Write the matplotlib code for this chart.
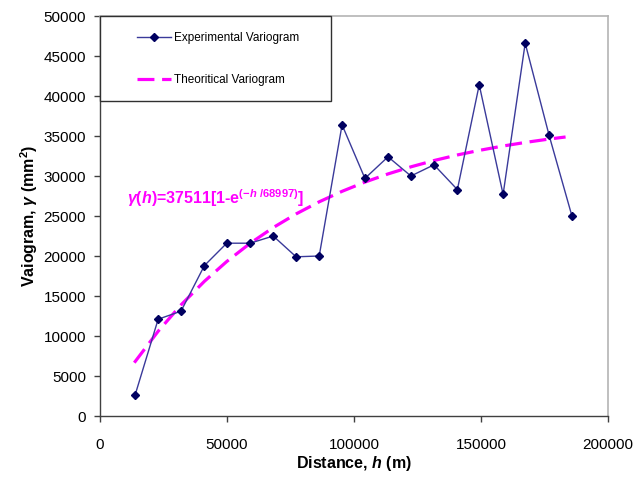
import matplotlib
matplotlib.use("Agg")
import matplotlib.pyplot as plt
from matplotlib.patches import Rectangle

plt.rcParams['font.family'] = ['Liberation Sans', 'DejaVu Sans']
plt.rcParams['mathtext.fontset'] = 'custom'
plt.rcParams['mathtext.rm'] = 'Liberation Sans:bold'
plt.rcParams['mathtext.it'] = 'Liberation Sans:italic:bold'
plt.rcParams['mathtext.bf'] = 'Liberation Sans:bold'

# Experimental variogram (lag distance in m, semivariance in mm^2)
exp_h = [13800, 22900, 31900, 41100, 49900, 59100, 68200, 77200, 86300, 95300,
         104300, 113400, 122400, 131500, 140700, 149300, 158700, 167400, 176800, 185800]
exp_g = [2600, 12100, 13100, 18800, 21600, 21600, 22500, 19900, 20000, 36400,
         29700, 32400, 30000, 31400, 28300, 41400, 27700, 46600, 35100, 25000]

# Theoretical (fitted exponential) variogram
theo_h = [13500, 22900, 31900, 41100, 49900, 59100, 68200, 77200, 86300, 95300,
          104300, 113400, 122400, 131500, 140700, 149300, 158700, 167400, 176800, 183300]
theo_g = [6666, 10597, 13887, 16835, 19311, 21584, 23553, 25260, 26772, 28084,
          29240, 30260, 31145, 31933, 32631, 33201, 33749, 34195, 34619, 34878]

x_ticks = [0, 50000, 100000, 150000, 200000]
y_ticks = [0, 5000, 10000, 15000, 20000, 25000, 30000, 35000, 40000, 45000, 50000]

W, H = 644, 480
fig = plt.figure(figsize=(W / 100, H / 100), dpi=100)
L, R, T, B = 100, 608, 16, 416
ax = fig.add_axes([L / W, 1 - B / H, (R - L) / W, (B - T) / H])

line_exp, = ax.plot(exp_h, exp_g, color='#3a3a9a', lw=1.0, marker='D', ms=3.8,
                    mfc='#000060', mec='#000060', zorder=3)
line_theo, = ax.plot(theo_h, theo_g, color='#ff00ff', lw=2.3,
                     linestyle=(0, (5.3, 2.4)), zorder=2)

ax.set_xlim(0, 200000)
ax.set_ylim(0, 50000)
ax.set_xticks(x_ticks)
ax.set_yticks(y_ticks)
ax.tick_params(direction='out', length=4, width=1, colors='#404040',
               labelcolor='black', labelsize=11)
ax.tick_params(axis='x', pad=12)
ax.tick_params(axis='y', pad=6)

for s in ['left', 'bottom']:
    ax.spines[s].set_color('#404040')
    ax.spines[s].set_linewidth(1.0)
for s in ['top', 'right']:
    ax.spines[s].set_color('#b4b4b4')
    ax.spines[s].set_linewidth(1.2)

ax.set_xlabel('Distance, $h$ (m)', fontsize=11.5, fontweight='bold')
ax.set_ylabel(r'Vaiogram, $\gamma$ (mm$^{2}$)', fontsize=11.5, fontweight='bold')
ax.xaxis.set_label_coords(0.5, -0.095)
ax.yaxis.set_label_coords(-0.118, 0.5)

fig.text(127 / W, 1 - 198 / H, r'$\gamma$($h$)=37511[1-e$^{(-h\ /68997)}$]',
         color='#ff00ff', fontsize=11.5, fontweight='bold',
         va='center', ha='left')

# Legend box
rect = Rectangle((L / W, 1 - 101 / H), (331 - L) / W, (101 - T) / H,
                 transform=fig.transFigure, facecolor='white', edgecolor='#303030',
                 lw=1.0, zorder=5)
fig.patches.append(rect)
leg = fig.legend([line_exp, line_theo], ['Experimental Variogram', 'Theoritical Variogram'],
                 loc='center left', bbox_to_anchor=(137 / W, 1 - 59 / H),
                 frameon=False, fontsize=8.5, handlelength=2.85, handletextpad=0.3,
                 labelspacing=2.5, borderpad=0, borderaxespad=0)
leg.set_zorder(6)

fig.savefig('out.png', dpi=100)
